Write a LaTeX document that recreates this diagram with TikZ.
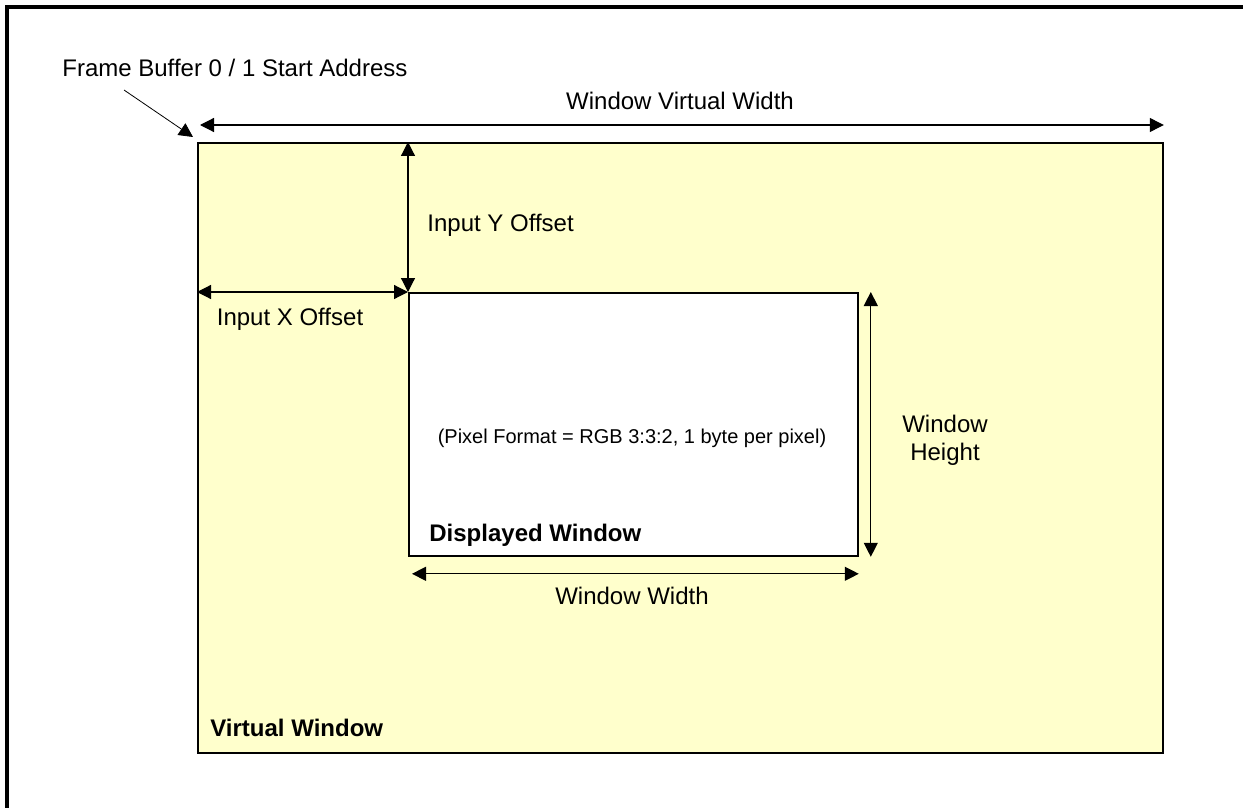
\documentclass[tikz,border=0pt]{standalone}
\usepackage{fontspec}
\setmainfont{Liberation Sans}
\usetikzlibrary{positioning,arrows.meta}
\definecolor{vwyellow}{RGB}{255,255,204}

\begin{document}
\begin{tikzpicture}[x=0.5pt,y=-0.5pt,
  >={Triangle[length=7pt,width=7pt]},
  win/.style={draw,line width=0.9pt,anchor=north west,inner sep=0pt},
  dim/.style={<->,line width=0.6pt},
  lbl/.style={font=\fontsize{12}{14}\selectfont,align=center,inner sep=1pt},
  tag/.style={font=\fontsize{12}{14}\selectfont\bfseries,inner sep=1pt},
  note/.style={font=\fontsize{10}{12}\selectfont,inner sep=1pt}]
  \clip (0,0) rectangle (1243,808);
  \fill[white] (0,0) rectangle (1243,808);
  \draw[line width=1.8pt] (7,830) -- (7,7) -- (1260,7);
  \node (vw) [win,fill=vwyellow,minimum width=482.5pt,minimum height=305pt] at (197,142) {};
  \node (dw) [win,fill=white,minimum width=224.5pt,minimum height=131.5pt] at (408,292) {};
  \draw[dim] ([xshift=1.5pt,yshift=8.5pt]vw.north west) -- ([yshift=8.5pt]vw.north east);
  \draw[dim] (dw.north west |- vw.north) -- (dw.north west);
  \draw[dim] (vw.west |- dw.north west) -- (dw.north west);
  \draw[dim] ([xshift=6pt]dw.north east) -- ([xshift=6pt]dw.south east);
  \draw[dim] ([xshift=2pt,yshift=-8.5pt]dw.south west) -- ([yshift=-8.5pt]dw.south east);
  \node (fb) [lbl,anchor=base west] at (60,77) {Frame Buffer 0 / 1 Start Address};
  \coordinate (fbtail) at (124,90);
  \draw[->,line width=0.4pt] (fbtail) -- ([shift={(-2pt,2.5pt)}]vw.north west);
  \node (vwidth) [lbl,anchor=base] at (680,110) {Window Virtual Width};
  \node (yoff) [lbl,anchor=base west] at (425,231) {Input Y Offset};
  \node (xoff) [lbl,anchor=base] at (290,325) {Input X Offset};
  \node (wh) [lbl] at (945,440) {Window\\Height};
  \node (fmt) [note] at (632,438) {(Pixel Format = RGB 3:3:2, 1 byte per pixel)};
  \node (dwl) [tag,anchor=base west] at (427,541) {Displayed Window};
  \node (ww) [lbl,anchor=base] at (632,604) {Window Width};
  \node (vwl) [tag,anchor=base west] at (208,736) {Virtual Window};
\end{tikzpicture}
\end{document}
